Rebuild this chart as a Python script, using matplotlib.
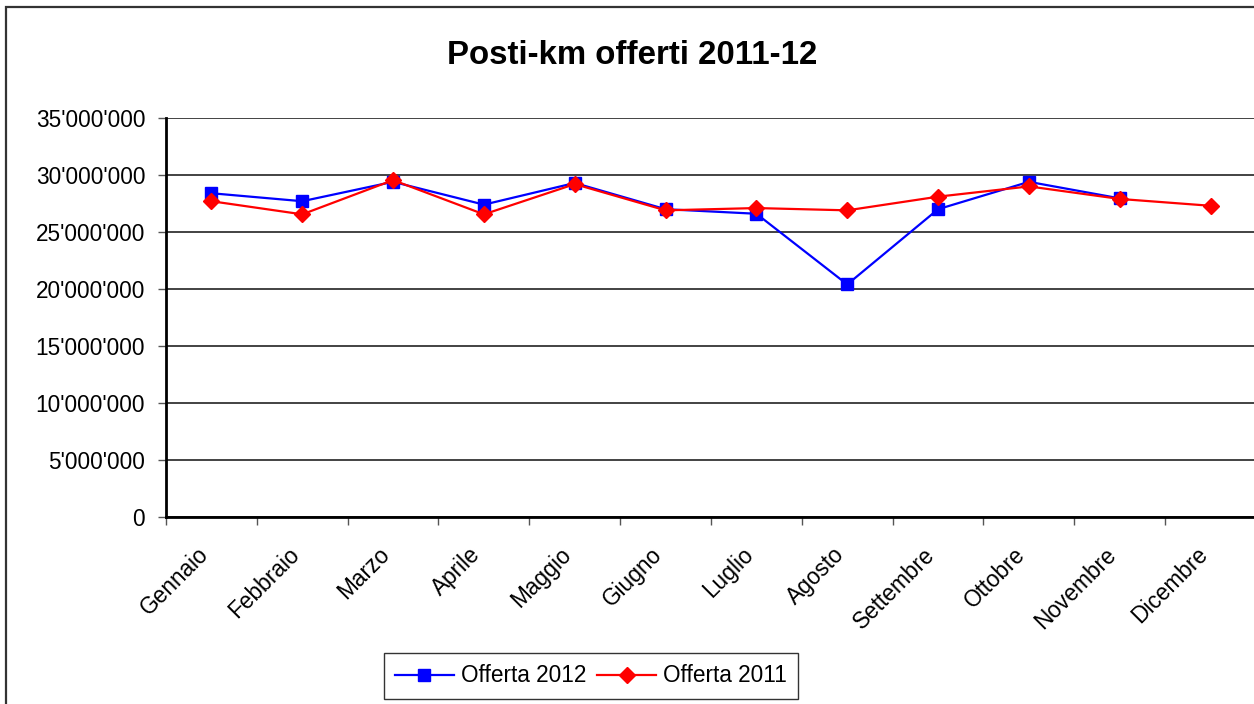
import matplotlib
matplotlib.use("Agg")
import matplotlib.pyplot as plt
from matplotlib.patches import Rectangle
from matplotlib.transforms import ScaledTranslation
from matplotlib.ticker import FuncFormatter, MultipleLocator, FixedLocator, NullFormatter

months = ["Gennaio", "Febbraio", "Marzo", "Aprile", "Maggio", "Giugno",
          "Luglio", "Agosto", "Settembre", "Ottobre", "Novembre", "Dicembre"]
offerta_2012 = [28.4e6, 27.7e6, 29.4e6, 27.4e6, 29.3e6, 27.0e6,
                26.6e6, 20.4e6, 27.0e6, 29.4e6, 27.95e6]
offerta_2011 = [27.7e6, 26.55e6, 29.55e6, 26.55e6, 29.2e6, 26.9e6,
                27.1e6, 26.9e6, 28.1e6, 29.0e6, 27.9e6, 27.3e6]
title = "Posti-km offerti 2011-12"

plt.rcParams['font.family'] = ['Liberation Sans', 'DejaVu Sans']

W, H = 1254, 704
fig = plt.figure(figsize=(W / 100, H / 100), dpi=100)
fig.patch.set_facecolor('white')

# outer chart border (cropped at right/bottom)
fig.add_artist(Rectangle((6 / W, -0.05), 1.2, 1 - 7 / H + 0.05,
                         transform=fig.transFigure, fill=False,
                         edgecolor='#333333', linewidth=1.6))

ax = fig.add_axes([166 / W, 1 - 517 / H, (1256 - 166) / W, (517 - 118) / H])
x = list(range(len(months)))
ax.plot(x[:len(offerta_2012)], offerta_2012, color='#0000FF', lw=1.6,
        marker='s', markersize=8.5, label='Offerta 2012', zorder=3)
ax.plot(x, offerta_2011, color='#FF0000', lw=1.6,
        marker='D', markersize=8, label='Offerta 2011', zorder=4)

ax.set_xlim(-0.5, len(months) - 0.5)
ax.set_ylim(0, 35e6)
ax.yaxis.set_major_locator(MultipleLocator(5e6))
ax.yaxis.set_major_formatter(FuncFormatter(lambda v, p: f"{int(v):,}".replace(",", "'")))
ax.grid(axis='y', color='#222222', lw=1.2)
ax.set_axisbelow(True)

# x category boundary ticks, labels drawn as rotated text
ax.set_xticks([i + 0.5 for i in range(-1, len(months))])
ax.xaxis.set_major_formatter(NullFormatter())
ax.tick_params(axis='x', length=6, width=1, color='#555555', direction='out')
lab_tr = ax.get_xaxis_transform() + ScaledTranslation(-0.15, -0.26, fig.dpi_scale_trans)
for i, m in enumerate(months):
    ax.text(i, 0, m, transform=lab_tr, rotation=45, ha='right', va='top',
            rotation_mode='anchor', fontsize=16.3, clip_on=False)

ax.tick_params(axis='y', length=6, width=1, color='#555555', labelsize=16.3, pad=9)

for s in ['top', 'right']:
    ax.spines[s].set_visible(False)
ax.spines['left'].set_linewidth(2)
ax.spines['bottom'].set_linewidth(2)

fig.text(632 / W, 1 - 55 / H, title, ha='center', va='center',
         fontsize=23.8, fontweight='bold')

leg = fig.legend(loc='center', bbox_to_anchor=(591 / W, 1 - 676 / H), ncol=2,
                 fontsize=16.3, frameon=True, fancybox=False, edgecolor='black',
                 handlelength=2.6, columnspacing=0.5, handletextpad=0.3,
                 borderpad=0.5)
leg.get_frame().set_linewidth(1.0)

fig.savefig('out.png', dpi=100)
